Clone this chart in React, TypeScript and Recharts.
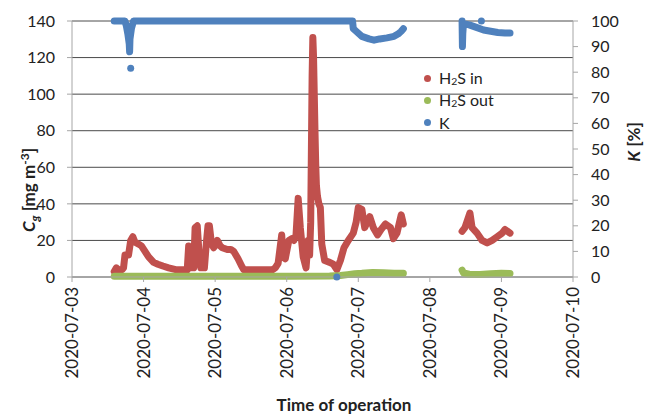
import { CartesianGrid, ComposedChart, Legend, Line, ReferenceLine, Scatter, XAxis, YAxis } from 'recharts'

// x values are days since 2020-07-03 00:00
const dayTicks = [0, 1, 2, 3, 4, 5, 6, 7]
const dateLabels = ['2020-07-03', '2020-07-04', '2020-07-05', '2020-07-06', '2020-07-07', '2020-07-08', '2020-07-09', '2020-07-10']
const concTicks = [0, 20, 40, 60, 80, 100, 120, 140]
const kTicks = [0, 10, 20, 30, 40, 50, 60, 70, 80, 90, 100]

const h2sInDays = [
  0.59, 0.62, 0.65, 0.7, 0.72, 0.74, 0.79, 0.82, 0.85, 0.88, 0.93, 0.97, 1.02, 1.07, 1.14, 1.2, 1.27, 1.35, 1.45, 1.55,
  1.61, 1.63, 1.66, 1.7, 1.72, 1.75, 1.78, 1.8, 1.85, 1.88, 1.9, 1.92, 1.95, 1.98, 2.03, 2.07, 2.1, 2.17, 2.22, 2.26,
  2.32, 2.37, 2.4, 2.5, 2.6, 2.7, 2.8, 2.84, 2.88, 2.93, 2.95, 2.98, 3.03, 3.07, 3.1, 3.13, 3.16, 3.19, 3.23, 3.27,
  3.3, 3.32, 3.335, 3.345, 3.355, 3.365, 3.375, 3.385, 3.395, 3.405, 3.415, 3.43, 3.45, 3.47, 3.49, 3.53, 3.6, 3.65,
  3.7, 3.75, 3.8, 3.86, 3.93, 3.97, 4.0, 4.05, 4.09, 4.16, 4.21, 4.27, 4.32, 4.38, 4.45, 4.49, 4.54, 4.6, 4.63,
  5.0,
  5.45, 5.49, 5.56, 5.59, 5.66, 5.73, 5.8, 5.87, 5.94, 6.01, 6.05, 6.12,
]
const h2sInValues = [
  3, 5, 4, 4, 5, 12, 12, 20, 22, 19, 18, 17, 14, 11, 8, 7, 6, 5, 4, 4,
  4, 17, 5, 5, 27, 28, 10, 5, 5, 20, 28, 28, 18, 16, 20, 17, 16, 15, 15, 14,
  10, 6, 4, 4, 4, 4, 4, 5, 7.5, 23, 11, 10, 20, 21, 20, 23, 43, 27, 11, 5,
  20, 12, 30, 70, 110, 131, 120, 100, 80, 62, 50, 44, 40, 38, 18, 9, 8, 7,
  4, 9, 16, 20, 24, 30, 38, 37, 27, 33, 27, 23, 26, 29, 27, 21, 24, 34, 29,
  null,
  25, 27, 35, 27, 24, 20, 18.6, 20, 22, 24, 26, 24,
]

const h2sOutDays = [0.59, 1.0, 2.0, 3.0, 3.6, 3.75, 3.85, 3.95, 4.05, 4.2, 4.35, 4.5, 4.63, 5.0, 5.45, 5.47, 5.55, 5.7, 5.85, 6.0, 6.12]
const h2sOutValues = [0.4, 0.4, 0.4, 0.4, 0.5, 0.8, 1.3, 1.8, 2.0, 2.5, 2.3, 2.0, 2.0, null, 3.8, 2.2, 1.5, 1.4, 1.8, 2.0, 1.9]

const kDays = [
  0.59, 0.74, 0.76, 0.78, 0.8, 0.805, 0.81, 0.83, 0.86, 3.92, 3.93, 3.97, 4.05, 4.15, 4.22, 4.3, 4.4, 4.5, 4.56, 4.6, 4.63,
  5.0,
  5.45, 5.455, 5.46, 5.47, 5.55, 5.65, 5.75, 5.85, 5.95, 6.05, 6.12,
]
const kValues = [
  100, 100, 98, 95, 91, 88, 93, 97, 100, 100, 97, 96, 94, 93, 92.5, 93, 93.4, 94, 95, 96, 97,
  null,
  100, 90, 95, 99, 98.5, 97.5, 96.5, 96, 95.5, 95.3, 95.3,
]
const kOutlierDays = [0.82, 3.7, 5.72]
const kOutlierValues = [81.5, 0, 100]

const RED = '#C0504D'
const GREEN = '#9BBB59'
const BLUE = '#4F81BD'
const AXIS = '#a6a6a6'
const FONT = 'Lato, "Open Sans", sans-serif'

const toRows = (days: number[], values: (number | null)[]) => days.map((t, i) => ({ t, v: values[i] }))

const legendItems = [
  { key: 'in', color: RED, label: <>H<sub style={{ fontSize: '0.65em', verticalAlign: '-0.1em' }}>2</sub>S in</> },
  { key: 'out', color: GREEN, label: <>H<sub style={{ fontSize: '0.65em', verticalAlign: '-0.1em' }}>2</sub>S out</> },
  { key: 'k', color: BLUE, label: <>K</> },
]

const renderLegend = () => (
  <div style={{ fontFamily: FONT, fontSize: 16, color: '#222' }}>
    {legendItems.map((item) => (
      <div key={item.key} style={{ display: 'flex', alignItems: 'center', height: 22 }}>
        <span style={{ width: 7, height: 7, borderRadius: '50%', background: item.color, marginRight: 8 }} />
        <span>{item.label}</span>
      </div>
    ))}
  </div>
)

const DateTick = ({ x, y, payload }: any) => (
  <text
    x={x}
    y={y}
    transform={`rotate(-90 ${x} ${y})`}
    textAnchor="end"
    dy="0.35em"
    fill="#222"
    fontSize={17}
    fontFamily={FONT}
  >
    {dateLabels[payload.value] ?? ''}
  </text>
)

export default function App() {
  return (
    <div style={{ position: 'absolute', left: 0, top: 0, background: '#fff' }}>
      <ComposedChart width={648} height={414} margin={{ top: 21, right: 0, bottom: 0, left: 0 }}>
        <CartesianGrid yAxisId="left" vertical={false} stroke="#4a4a4a" />
        <XAxis
          dataKey="t"
          type="number"
          domain={[0, 7]}
          ticks={dayTicks}
          height={137}
          tickSize={5}
          tickMargin={5}
          axisLine={{ stroke: AXIS }}
          tickLine={{ stroke: AXIS }}
          tick={<DateTick />}
          allowDataOverflow
          label={() => (
            <text x={344} y={411} textAnchor="middle" fontWeight="bold" fontSize={17} fill="#222" fontFamily={FONT}>
              Time of operation
            </text>
          )}
        />
        <YAxis
          yAxisId="left"
          orientation="left"
          width={72}
          domain={[0, 140]}
          ticks={concTicks}
          tickSize={5}
          tickMargin={12}
          axisLine={{ stroke: AXIS }}
          tickLine={{ stroke: AXIS }}
          tick={{ fill: '#222', fontSize: 16, fontFamily: FONT }}
          label={() => (
            <text
              x={29}
              y={190}
              transform="rotate(-90 29 190)"
              textAnchor="middle"
              dy="0.35em"
              fontWeight="bold"
              fontSize={17}
              fill="#222"
              fontFamily={FONT}
            >
              <tspan fontStyle="italic">C</tspan>
              <tspan fontStyle="italic" fontSize={12} dy={4}>g</tspan>
              <tspan dy={-4}> [mg m</tspan>
              <tspan fontSize={12} dy={-6}>-3</tspan>
              <tspan dy={6}>]</tspan>
            </text>
          )}
        />
        <YAxis
          yAxisId="right"
          orientation="right"
          width={75}
          domain={[0, 100]}
          ticks={kTicks}
          tickSize={5}
          tickMargin={13}
          axisLine={{ stroke: AXIS }}
          tickLine={{ stroke: AXIS }}
          tick={{ fill: '#222', fontSize: 16, fontFamily: FONT }}
          label={() => (
            <text
              x={634}
              y={142}
              transform="rotate(-90 634 142)"
              textAnchor="middle"
              dy="0.35em"
              fontWeight="bold"
              fontSize={17}
              fill="#222"
              fontFamily={FONT}
            >
              <tspan fontStyle="italic">K</tspan>
              <tspan> [%]</tspan>
            </text>
          )}
        />
        <ReferenceLine yAxisId="left" y={140} stroke={AXIS} />
        <Legend
          layout="vertical"
          align="center"
          verticalAlign="middle"
          content={renderLegend}
          wrapperStyle={{ left: 424, top: 67, width: 120, height: 66 }}
        />
        <Line
          name="H2S in"
          yAxisId="left"
          data={toRows(h2sInDays, h2sInValues)}
          dataKey="v"
          stroke={RED}
          strokeWidth={7}
          strokeLinecap="round"
          strokeLinejoin="round"
          dot={false}
          connectNulls={false}
          isAnimationActive={false}
        />
        <Line
          name="H2S out"
          yAxisId="left"
          data={toRows(h2sOutDays, h2sOutValues)}
          dataKey="v"
          stroke={GREEN}
          strokeWidth={7}
          strokeLinecap="round"
          strokeLinejoin="round"
          dot={false}
          connectNulls={false}
          isAnimationActive={false}
        />
        <Line
          name="K"
          yAxisId="right"
          data={toRows(kDays, kValues)}
          dataKey="v"
          stroke={BLUE}
          strokeWidth={7}
          strokeLinecap="round"
          strokeLinejoin="round"
          dot={false}
          connectNulls={false}
          isAnimationActive={false}
        />
        <Scatter
          name="K outliers"
          yAxisId="right"
          data={toRows(kOutlierDays, kOutlierValues)}
          dataKey="v"
          fill={BLUE}
          legendType="none"
          shape={(p: any) => <circle cx={p.cx} cy={p.cy} r={3.5} fill={BLUE} />}
          isAnimationActive={false}
        />
      </ComposedChart>
    </div>
  )
}
